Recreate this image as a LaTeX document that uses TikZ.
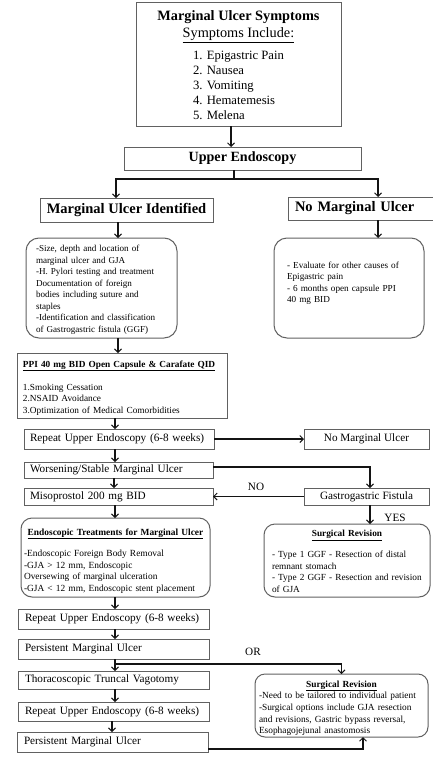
\documentclass[tikz,border=0pt]{standalone}
\usepackage{fontspec}
\setmainfont{Liberation Serif}
\usetikzlibrary{arrows.meta,calc}
\definecolor{bordergray}{gray}{0.38}
\definecolor{linecol}{gray}{0.08}
\newcommand{\mb}[1]{\mbox{#1}}
\tikzset{
  box/.style={draw=bordergray, line width=1pt, rectangle, inner sep=0pt, outer sep=0pt},
  rbox/.style={box, rounded corners=11pt},
  arr/.style={draw=linecol, line width=1.1pt, -{Straight Barb[length=3.5pt,width=7pt,line width=1pt]}},
  conn/.style={draw=linecol, line width=1.1pt},
  small/.style={font=\fontsize{9.3}{11.5}\selectfont},
  mid/.style={font=\fontsize{11.2}{13.5}\selectfont},
  lbl/.style={inner sep=0pt, font=\fontsize{11.2}{13}\selectfont},
}
\begin{document}
\begin{tikzpicture}[x=1pt,y=-1pt]
\useasboundingbox[fill=white] (0,0) rectangle (432,768);

% top symptoms box
\node[box, minimum width=205pt, minimum height=123pt, align=center, font=\fontsize{14.3}{18}\selectfont] (sym) at (238.5,64.5)
 {\rule{0pt}{15.5pt}\textbf{Marginal Ulcer Symptoms}\\[-0.5pt]
  \underline{Symptoms Include:}\\[4pt]
  \fontsize{12.7}{14.9}\selectfont\begin{tabular}[t]{@{}l@{}}1. Epigastric Pain\\2. Nausea\\3. Vomiting\\4. Hematemesis\\5. Melena\end{tabular}};

\node[box, minimum width=237pt, minimum height=23pt, font=\fontsize{14.1}{17}\selectfont\bfseries] (upper) at (242.5,158.5) {Upper Endoscopy};

\node[box, minimum width=173pt, minimum height=24pt, font=\fontsize{14.5}{17}\selectfont\bfseries] (mui) at (126.5,210) {Marginal Ulcer Identified};
\node[box, minimum width=145pt, minimum height=23pt, text width=131pt, align=left, font=\fontsize{14.5}{17}\selectfont\bfseries] (nmu) at (360.5,208.5) {No Marginal Ulcer};

\node[rbox, rounded corners=13pt, minimum width=151pt, minimum height=100pt, text width=131pt, align=left, font=\fontsize{9.1}{11.5}\selectfont] (rb1) at (101.5,288)
 {\rule{0pt}{10pt}\mb{-Size, depth and location of}\\
  \mb{marginal ulcer and GJA}\\
  \mb{-H. Pylori testing and treatment}\\
  \mb{Documentation of foreign}\\
  \mb{bodies including suture and}\\
  \mb{staples}\\
  \mb{-Identification and classification}\\
  \mb{of Gastrogastric fistula (GGF)}};

\node[rbox, rounded corners=13pt, minimum width=150pt, minimum height=100pt, text width=124pt, align=left, font=\fontsize{9.2}{11.3}\selectfont] (rb2) at (349,288)
 {\mb{- Evaluate for other causes of}\\
  \mb{Epigastric pain}\\
  \mb{- 6 months open capsule PPI}\\
  \mb{40 mg BID}\\
  \mbox{}};

\node[box, minimum width=210pt, minimum height=65pt, text width=198pt, align=left, small] (ppi) at (122,385.5)
 {\rule{0pt}{11pt}\mb{\underline{\textbf{PPI 40 mg BID Open Capsule \& Carafate QID}}}\\[11.5pt]
  \mb{1.Smoking Cessation}\\
  \mb{2.NSAID Avoidance}\\
  \mb{3.Optimization of Medical Comorbidities}};

\node[box, minimum width=190pt, minimum height=20pt, text width=178pt, align=left, mid] (rep1) at (119,439) {\mb{Repeat Upper Endoscopy (6-8 weeks)}};
\node[box, minimum width=125pt, minimum height=20pt, mid] (nmu2) at (366.5,439) {No Marginal Ulcer};

\node[box, minimum width=189pt, minimum height=16pt, text width=177pt, align=left, mid] (wor) at (118.5,470) {\mb{Worsening/Stable Marginal Ulcer}};
\node[box, minimum width=189pt, minimum height=17pt, text width=177pt, align=left, mid] (miso) at (118.5,496.5) {\mb{Misoprostol 200 mg BID}};
\node[box, minimum width=125pt, minimum height=17pt, mid] (ggf) at (366.5,496.5) {Gastrogastric Fistula};

\node[lbl] (no) at (256,487) {NO};
\node[lbl] (yes) at (395,518) {YES};

\node[rbox, minimum width=189pt, minimum height=79pt, text width=183pt, align=left, font=\fontsize{9.4}{11.7}\selectfont] (endo) at (115.5,557.5)
 {\rule{0pt}{13.5pt}\makebox[183pt][c]{\underline{\textbf{Endoscopic Treatments for Marginal Ulcer}}}\\[9.5pt]
  \mb{-Endoscopic Foreign Body Removal}\\
  \mb{-GJA > 12 mm, Endoscopic}\\
  \mb{Oversewing of marginal ulceration}\\
  \mb{-GJA < 12 mm, Endoscopic stent placement}};

\node[rbox, minimum width=166pt, minimum height=73pt, text width=150pt, align=left, small] (sr1) at (347,560.5)
 {\rule{0pt}{8.5pt}\makebox[150pt][c]{\underline{\textbf{Surgical Revision}}}\\[9.5pt]
  \mb{- Type 1 GGF - Resection of distal}\\
  \mb{remnant stomach}\\
  \mb{- Type 2 GGF - Resection and revision}\\
  \mb{of GJA}};

\node[box, minimum width=191pt, minimum height=20pt, text width=177pt, align=left, mid] (rep2) at (113.5,619) {\mb{Repeat Upper Endoscopy (6-8 weeks)}};
\node[box, minimum width=191pt, minimum height=20pt, text width=177pt, align=left, mid] (per1) at (113.5,649) {\mb{Persistent Marginal Ulcer}};
\node[lbl] (or) at (253,652) {OR};
\node[box, minimum width=191pt, minimum height=18pt, text width=177pt, align=left, mid] (tv) at (113.5,680) {\mb{Thoracoscopic Truncal Vagotomy}};
\node[box, minimum width=191pt, minimum height=19pt, text width=177pt, align=left, mid] (rep3) at (113.5,711.5) {\mb{Repeat Upper Endoscopy (6-8 weeks)}};
\node[box, minimum width=191pt, minimum height=20pt, text width=177pt, align=left, mid] (per2) at (112.5,742) {\mb{Persistent Marginal Ulcer}};

\node[rbox, rounded corners=10pt, minimum width=173pt, minimum height=63pt, text width=165pt, align=left, font=\fontsize{9.35}{11.7}\selectfont] (sr2) at (341.5,705.5)
 {\rule{0pt}{12pt}\makebox[165pt][c]{\underline{\textbf{Surgical Revision}}}\\
  \mb{-Need to be tailored to individual patient}\\
  \mb{-Surgical options include GJA resection}\\
  \mb{and revisions, Gastric bypass reversal,}\\
  \mb{Esophagojejunal anastomosis}};

% connectors
\draw[arr] (sym.south -| 231,0) -- (upper.north -| 231,0);
\coordinate (split) at (234,179);
\draw[conn] (upper.south -| 234,0) -- (split);
\draw[arr] (split) -| (mui.north -| 116,0);
\draw[arr] (split) -| (nmu.north -| 378,0);
\draw[arr] (mui.south -| 118,0) -- (rb1.north -| 118,0);
\draw[arr] (nmu.south -| 378,0) -- (rb2.north -| 378,0);
\draw[arr] (rb1.south -| 118,0) -- (ppi.north -| 118,0);
\draw[arr] (ppi.south -| 115,0) -- (rep1.north -| 115,0);
\draw[arr] (rep1.east) -- (nmu2.west);
\draw[arr] (rep1.south -| 115,0) -- (wor.north -| 115,0);
\draw[arr] (wor.east |- 0,467) -| (ggf.north -| 370,0);
\draw[arr] (wor.south -| 114,0) -- (miso.north -| 114,0);
\draw[arr] (ggf.west) -- (miso.east);
\draw[arr] (ggf.south -| 370,0) -- (sr1.north -| 370,0);
\draw[arr] (miso.south -| 115,0) -- (endo.north -| 115,0);
\draw[arr] (endo.south -| 115,0) -- (rep2.north -| 115,0);
\draw[arr] (rep2.south -| 115,0) -- (per1.north -| 115,0);
\draw[arr] (per1.south -| 115,0) -- (tv.north -| 115,0);
\coordinate (orsplit) at (115,664);
\draw[arr] (orsplit) -| (sr2.north);
\draw[arr] (tv.south -| 115,0) -- (rep3.north -| 115,0);
\draw[arr] (rep3.south -| 112,0) -- (per2.north -| 112,0);
\draw[arr] (per2.east |- 0,749) -| (sr2.south -| 363,0);
\end{tikzpicture}
\end{document}
